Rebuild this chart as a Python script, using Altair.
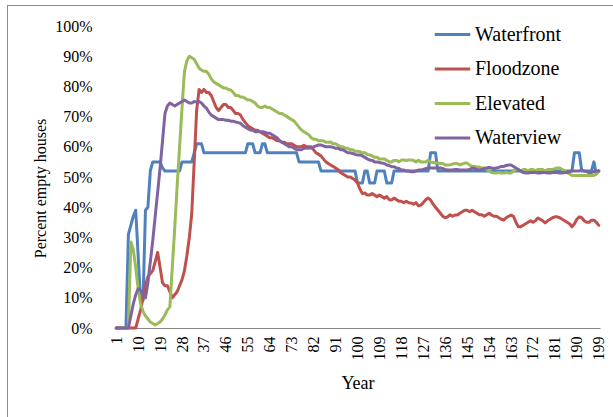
import altair as alt
import pandas as pd

# Share of empty houses per simulated year (percent), one list per housing type
years = list(range(1, 200))

waterfront = [
    0, 0, 0, 0, 0, 31, 34, 37, 39, 24,
    9, 9, 39, 40, 52, 55, 55, 55, 55, 53,
    52, 52, 52, 52, 52, 52, 52, 55, 55, 55,
    55, 55, 58, 61, 61, 61, 58, 58, 58, 58,
    58, 58, 58, 58, 58, 58, 58, 58, 58, 58,
    58, 58, 58, 58, 61, 61, 61, 58, 58, 58,
    61, 61, 58, 58, 58, 58, 58, 58, 58, 58,
    58, 58, 58, 58, 58, 55, 55, 55, 55, 55,
    55, 55, 55, 55, 52, 52, 52, 52, 52, 52,
    52, 52, 52, 52, 52, 52, 52, 52, 52, 48,
    48, 48, 52, 52, 48, 48, 48, 52, 52, 52,
    52, 48, 48, 48, 52, 52, 52, 52, 52, 52,
    52, 52, 52, 52, 52, 52, 52, 52, 52, 58,
    58, 58, 52, 52, 52, 52, 52, 52, 52, 52,
    52, 52, 52, 52, 52, 52, 52, 52, 52, 52,
    52, 52, 52, 52, 52, 52, 52, 52, 52, 52,
    52, 52, 52, 52, 52, 52, 52, 52, 52, 52,
    52, 52, 52, 52, 52, 52, 52, 52, 52, 52,
    52, 52, 52, 52, 52, 52, 52, 52, 58, 58,
    58, 52, 52, 52, 52, 52, 55, 51, 52,
]

floodzone = [
    0, 0, 0, 0, 0, 0, 0, 0, 0, 3,
    6, 10, 14, 17, 18, 19, 22, 25, 20, 15,
    14, 14, 12, 10, 11, 12, 14, 16, 19, 24,
    30, 38, 55, 72, 79, 78, 79, 78, 78, 77,
    75, 73, 72, 73, 74, 74, 73, 73, 72, 71,
    71, 70.5, 69, 68, 67, 66.5, 66, 65.5, 65.5, 65,
    64.5, 64, 63.5, 63, 63, 62.5, 62, 62, 61.5, 61.5,
    61, 61, 61, 60.5, 60, 60, 60, 60.5, 60, 60,
    60, 59, 58, 57.5, 57, 56, 55, 54.5, 54, 53.5,
    53, 52.5, 51.5, 51, 50.5, 50, 50, 49.5, 49, 48,
    46, 44.5, 44.7, 44, 44, 44.5, 44, 43.5, 44, 43.5,
    43, 43.5, 42.5, 42.4, 43, 42.5, 42, 42, 41.5, 42,
    41.5, 41.4, 41, 41.5, 40.5, 40.7, 41.5, 42.5, 43, 42.4,
    41, 40, 39, 38, 37, 36.5, 36.8, 37.5, 37, 37.4,
    37.4, 38, 38.5, 39, 39, 38.5, 39, 38.5, 38, 37.5,
    37.5, 37, 37.5, 38, 37.4, 37, 37, 36.5, 36, 35.7,
    36.5, 37, 37.4, 37, 35, 33.5, 33.5, 34, 34.5, 35,
    35.5, 35, 35.5, 36.4, 36, 35.5, 34.8, 35.5, 36, 36.5,
    36.8, 36.8, 36.5, 36, 35.5, 35, 34.5, 33.5, 34.5, 36,
    36.8, 36.5, 35.5, 35, 35, 35.7, 35.7, 35, 34,
]

elevated = [
    0, 0, 0, 0, 0, 0, 28.5, 26, 20, 13,
    8, 5.5, 4, 3, 2, 1.5, 1, 1.5, 2, 3,
    4.3, 6, 7, 20, 33, 47, 60, 73, 85, 88.5,
    90, 89.5, 89, 87.5, 86, 85.4, 85, 85, 84, 82.5,
    81.5, 81, 80.5, 80, 79.5, 79.5, 79, 78.8, 78, 77,
    77, 76.5, 76.5, 76, 75.5, 75.5, 75, 74.5, 73.5, 73,
    73, 73.5, 73, 73, 72.5, 72, 71.5, 71, 71, 70.5,
    70, 69.5, 69, 68.5, 67.5, 66.5, 65.6, 65, 64.5, 64,
    63, 62.5, 62.5, 62, 62, 62, 61.5, 61.5, 61.6, 61,
    61, 60.5, 60, 60, 59.5, 59.5, 59, 59, 58.5, 58.5,
    58.4, 58, 58, 57.5, 57.3, 57, 56.5, 56.5, 56, 56,
    56, 55.5, 55, 55, 55.5, 55.5, 55, 55.6, 55.6, 55.5,
    55.6, 55.6, 55.5, 55, 55.5, 55, 55, 55, 55.5, 55,
    54.8, 54.6, 54.6, 54.5, 54.5, 54, 54, 54, 54.3, 54.5,
    54.5, 54, 54.3, 54.6, 54.6, 54, 53.5, 53.5, 53.3, 53.3,
    53, 53, 52.5, 52, 51.5, 51.3, 51.3, 51.5, 51.3, 51.3,
    51.5, 51.3, 51.3, 52, 52.5, 52.5, 52, 52.5, 52.5, 52,
    52.5, 52.5, 52, 52.5, 52.5, 52.5, 52, 52.5, 52.5, 52.5,
    52.8, 53, 53, 52.5, 52, 51.5, 51, 50.5, 50.5, 50.5,
    50.5, 50.5, 50.5, 50.5, 50.5, 50.5, 50.5, 51, 52,
]

waterview = [
    0, 0, 0, 0, 0, 0, 4, 8, 11, 13,
    12.5, 11, 10, 15, 22, 29, 37, 45, 53, 62,
    71, 73.5, 74.5, 74, 73.5, 74, 74.5, 75, 75.5, 75,
    74.5, 74.5, 75, 74.8, 75, 74.5, 73.5, 72.8, 71.5, 70.5,
    70, 69.5, 69, 69, 69, 68.8, 68.8, 68.5, 68.5, 68.2,
    68, 67.8, 67, 66.5, 66, 65.6, 65.5, 65, 65, 65,
    65, 64.8, 64.5, 64.5, 64, 63.5, 63, 62, 61.5, 61,
    60.5, 60, 60, 59.5, 59, 59, 59, 59.5, 59.5, 59.6,
    59.6, 60, 60.3, 60.6, 60.6, 60.3, 60, 60, 60, 59.8,
    59.5, 59.5, 59, 59, 58.5, 58, 58, 57.8, 57.5, 57.3,
    57.3, 57, 56.5, 56, 55.6, 55.5, 55, 55, 54.8, 54.6,
    54.5, 54, 53.8, 53.4, 53.4, 53, 52.8, 52.3, 52.3, 52,
    52, 51.7, 51.7, 52, 52.3, 52.3, 52.5, 52.8, 53, 53,
    53, 53, 53, 53, 52.8, 52.5, 52.3, 52.3, 52.3, 52.5,
    52.5, 52.3, 52.3, 52.3, 52.3, 52.5, 53, 52.8, 52.5, 52.3,
    52.5, 52.8, 53, 53.2, 53, 52.8, 53, 53.2, 53.5, 53.5,
    53.8, 54, 54, 53.5, 53, 52.5, 52, 51.5, 51.3, 51.3,
    51.5, 51.5, 51.5, 51.3, 51.3, 51.5, 51.5, 51.3, 51.3, 51.5,
    51.5, 51.5, 51.3, 51.3, 51.5, 51.5, 51.8, 52, 52, 52,
    52, 52.3, 52, 51.8, 51.5, 51.5, 51.8, 52, 52,
]

series_names = ["Waterfront", "Floodzone", "Elevated", "Waterview"]
series_colors = ["#4F81BD", "#C0504D", "#9BBB59", "#8064A2"]
x_tick_values = list(range(1, 200, 9))
y_tick_values = list(range(0, 101, 10))

frames = []
for order, (name, values) in enumerate(zip(series_names, [waterfront, floodzone, elevated, waterview])):
    frames.append(pd.DataFrame({"Year": years, "Percent": values, "Series": name, "order": order}))
data = pd.concat(frames, ignore_index=True)

FONT = "Liberation Serif"
PLOT_W, PLOT_H = 485, 302

lines = alt.Chart(data).mark_line(strokeWidth=3, strokeJoin="round", strokeCap="round").encode(
    x=alt.X(
        "Year:Q",
        scale=alt.Scale(domain=[0.5, 199.5], nice=False, zero=False),
        axis=alt.Axis(
            values=x_tick_values,
            labelAngle=270,
            labelPadding=8,
            ticks=False,
            tickSize=0,
            grid=False,
            domainColor="#868686",
            domainWidth=1,
            labelFont=FONT,
            labelFontSize=16,
            labelColor="#000000",
            title="Year",
            titleFont=FONT,
            titleFontSize=18,
            titleFontWeight="normal",
            titleColor="#000000",
            titleBaseline="middle",
            titleY=55,
        ),
    ),
    y=alt.Y(
        "Percent:Q",
        scale=alt.Scale(domain=[0, 100], nice=False),
        axis=alt.Axis(
            values=y_tick_values,
            labelExpr="datum.value + '%'",
            labelPadding=23,
            ticks=False,
            tickSize=0,
            domain=False,
            grid=False,
            labelFont=FONT,
            labelFontSize=16,
            labelColor="#000000",
            title="Percent empty houses",
            titleFont=FONT,
            titleFontSize=16,
            titleFontWeight="normal",
            titleColor="#000000",
            titleAngle=270,
            titleBaseline="middle",
            titleX=-75,
            titleY=162,
        ),
    ),
    color=alt.Color(
        "Series:N",
        scale=alt.Scale(domain=series_names, range=series_colors),
        legend=alt.Legend(
            title=None,
            orient="none",
            legendX=318,
            legendY=-11,
            padding=0,
            symbolType="stroke",
            symbolSize=1260,
            symbolStrokeWidth=3,
            labelFont=FONT,
            labelFontSize=20,
            labelColor="#000000",
            labelOffset=3,
            rowPadding=4.5,
        ),
    ),
    order=alt.Order("order:Q"),
)

# thin frame around the chart area
frame = alt.Chart(data).mark_rect(fill="transparent", stroke="#8C8C8C", strokeWidth=1).encode(
    x=alt.value(-107.5),
    x2=alt.value(530),
    y=alt.value(-20.5),
    y2=alt.value(420),
)

chart = alt.layer(frame, lines).properties(
    width=PLOT_W,
    height=PLOT_H,
    autosize=alt.AutoSizeParams(type="none"),
    padding={"left": 115, "top": 26, "right": 13, "bottom": 89},
    background="#FFFFFF",
).configure_view(
    stroke=None
).configure_legend(
    labelFont=FONT,
    labelFontSize=20,
)

chart.save("out.html", embed_options={"renderer": "svg", "actions": False})
